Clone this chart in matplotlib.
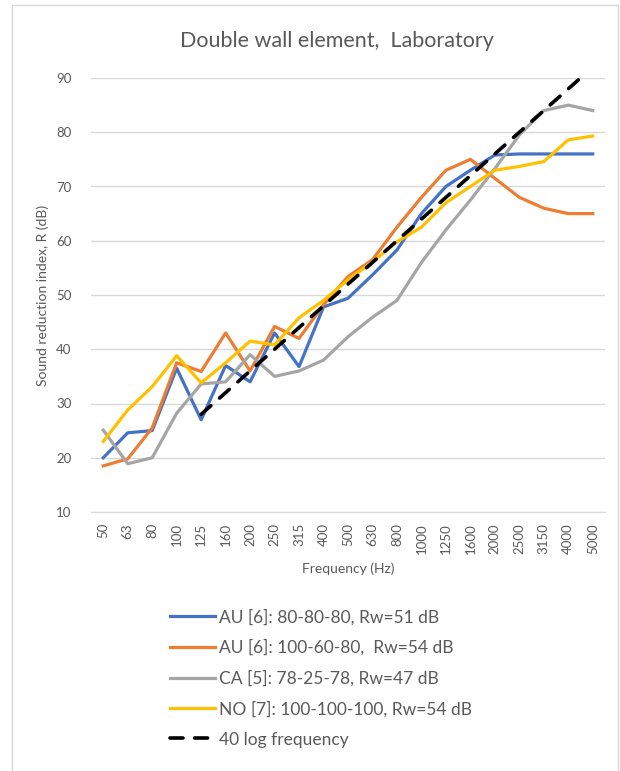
import numpy as np
import matplotlib.pyplot as plt
from matplotlib.patches import Rectangle

plt.rcParams['font.family'] = ['Lato', 'DejaVu Sans']

freqs = ["50", "63", "80", "100", "125", "160", "200", "250", "315", "400", "500",
         "630", "800", "1000", "1250", "1600", "2000", "2500", "3150", "4000", "5000"]

au_80 = [20, 24.6, 25, 36.5, 27, 37, 34, 43, 36.8, 47.8, 49.4,
         53.7, 58.3, 65, 70, 73, 75.8, 76, 76, 76, 76]
au_100 = [18.5, 19.8, 25.5, 37.5, 35.9, 43, 36, 44.2, 42, 48.2, 53.4,
          56.5, 62.5, 68, 73, 75, 71.5, 68, 66, 65, 65]
ca_78 = [25.1, 18.9, 20, 28.2, 33.6, 34, 39, 35, 36, 38, 42.3,
         45.9, 49, 56, 62, 67.5, 73.3, 79.5, 84, 85, 84]
no_100 = [23, 28.8, 33.1, 38.8, 33.8, 37.5, 41.5, 40.8, 45.8, 49, 52.8,
          56.1, 59.8, 62.5, 67, 70, 73, 73.7, 74.6, 78.6, 79.3]
log40 = [np.nan, np.nan, np.nan, np.nan, 28, 32, 36, 40, 44, 48, 52,
         56, 60, 64, 68, 72, 76, 80, 84, 88, 92]

labels = ["AU [6]: 80-80-80, Rw=51 dB",
          "AU [6]: 100-60-80,  Rw=54 dB",
          "CA [5]: 78-25-78, Rw=47 dB",
          "NO [7]: 100-100-100, Rw=54 dB",
          "40 log frequency"]

txt = '#595959'
grid = '#d9d9d9'

fig = plt.figure(figsize=(6.2, 7.71), dpi=100)
fig.patches.append(Rectangle((12 / 620, -0.01), 606 / 620, 1 - 5 / 771 + 0.01,
                             transform=fig.transFigure, fill=False,
                             edgecolor=grid, linewidth=1.0))

ax = fig.add_axes([91 / 620, 1 - 512 / 771, 514 / 620, 434 / 771])
x = np.arange(len(freqs))

ax.plot(x, au_80, color='#4472C4', lw=2.3, label=labels[0])
ax.plot(x, au_100, color='#ED7D31', lw=2.3, label=labels[1])
ax.plot(x, ca_78, color='#A5A5A5', lw=2.3, label=labels[2])
ax.plot(x, no_100, color='#FFC000', lw=2.3, label=labels[3])
ax.plot(x, log40, color='black', lw=2.6, dashes=(3.6, 3.2),
        dash_capstyle='round', label=labels[4])

ax.set_xlim(-0.5, len(freqs) - 0.5)
ax.set_ylim(10, 90)
ax.set_yticks(range(10, 91, 10))
ax.set_xticks(x)
ax.set_xticklabels(freqs, rotation=90)
ax.tick_params(axis='both', length=0, labelsize=9.5, colors=txt)
ax.tick_params(axis='x', pad=8)
ax.tick_params(axis='y', pad=14)
ax.grid(axis='y', color=grid, lw=1)
ax.set_axisbelow(True)
for s in ['top', 'right', 'left']:
    ax.spines[s].set_visible(False)
ax.spines['bottom'].set_color(grid)

ax.set_xlabel("Frequency (Hz)", fontsize=10, color=txt, labelpad=6)
ax.set_ylabel("Sound reduction index, R (dB)", fontsize=10, color=txt, labelpad=5)
fig.text(337 / 620, 1 - 41 / 771, "Double wall element,  Laboratory",
         ha='center', va='center', fontsize=15.5, color=txt)

fig.legend(loc='upper left', bbox_to_anchor=(170 / 620, 1 - 609 / 771),
           frameon=False, fontsize=12.5, handlelength=2.6, handletextpad=0.25,
           labelspacing=0.82, borderpad=0, borderaxespad=0, labelcolor=txt)

fig.savefig('out.png', dpi=100)
